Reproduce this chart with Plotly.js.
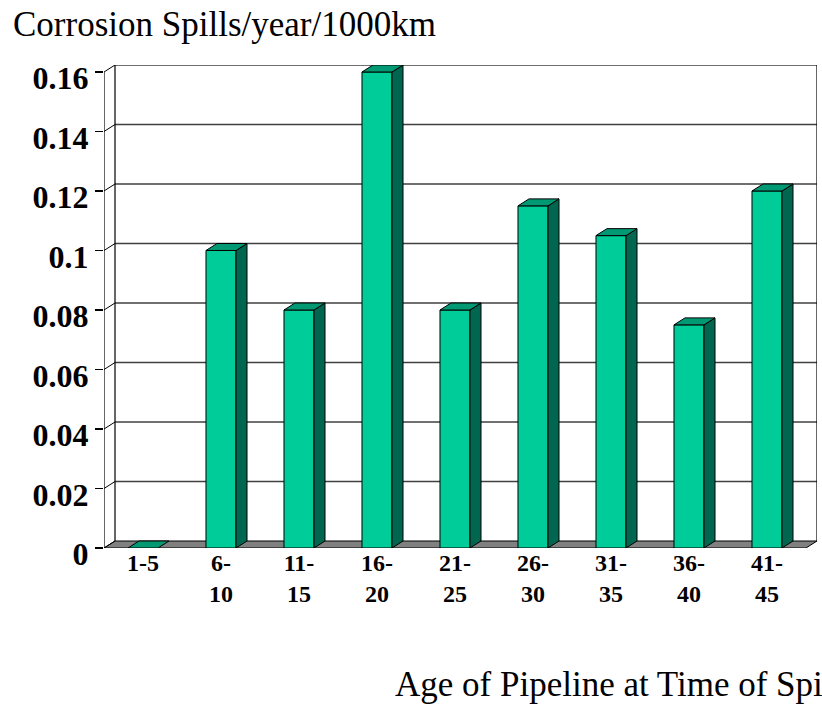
<!DOCTYPE html>
<html>
<head>
<meta charset="utf-8">
<script src="https://cdn.plot.ly/plotly-3.0.1.min.js"></script>
<style>html,body{margin:0;padding:0;background:#fff;}#chart{width:822px;height:706px;}</style>
</head>
<body>
<div id="chart"></div>
<script>
// ---- data ----
const categories = ['1-5', '6-10', '11-15', '16-20', '21-25', '26-30', '31-35', '36-40', '41-45'];
const tickLabels = ['1-5', '6-<br>10', '11-<br>15', '16-<br>20', '21-<br>25', '26-<br>30', '31-<br>35', '36-<br>40', '41-<br>45'];
const spills = [0, 0.1, 0.08, 0.16, 0.08, 0.115, 0.105, 0.075, 0.12];
const yTickVals = [0, 0.02, 0.04, 0.06, 0.08, 0.1, 0.12, 0.14, 0.16];
const yTickText = ['0', '0.02', '0.04', '0.06', '0.08', '0.1', '0.12', '0.14', '0.16'];
const yTitle = 'Corrosion Spills/year/1000km';
const xTitle = 'Age of Pipeline at Time of Spill';

// ---- style / geometry of the pseudo-3D look ----
const FONT = 'Liberation Serif, Times New Roman, serif';
const DX = 0.141;      // depth offset in x units
const DY = 0.00235;    // depth offset in y units
const BW = 0.385;      // bar width
const FRONT = '#00CC99', TOP = '#009973', SIDE = '#006650';
const YMAX = yTickVals[yTickVals.length - 1];

const idx = categories.map((c, i) => i);
const xLo = -0.5, xHi = categories.length - 0.5;

// side and top faces computed from data
const sideX = [], sideY = [], topX = [], topY = [];
idx.forEach(i => {
  const v = spills[i];
  const l = i - BW / 2, r = i + BW / 2;
  if (v > 0) {
    sideX.push(r, r + DX, r + DX, r, r, null);
    sideY.push(0, DY, v + DY, v, 0, null);
  }
  topX.push(l, r, r + DX, l + DX, l, null);
  topY.push(v, v, v + DY, v + DY, v, null);
});

const traces = [
  {type: 'bar', x: idx, y: spills, width: BW, marker: {color: FRONT, line: {color: '#000', width: 1}},
   hoverinfo: 'x+y', name: 'spills'},
  {type: 'scatter', x: sideX, y: sideY, mode: 'lines', fill: 'toself', fillcolor: SIDE,
   line: {color: '#000', width: 1}, hoverinfo: 'skip'},
  {type: 'scatter', x: topX, y: topY, mode: 'lines', fill: 'toself', fillcolor: TOP,
   line: {color: '#000', width: 1}, hoverinfo: 'skip'}
];

const shapes = [];
// floor
shapes.push({type: 'path', layer: 'below', xref: 'x', yref: 'y',
  path: `M ${xLo},0 L ${xHi},0 L ${xHi + DX},${DY} L ${xLo + DX},${DY} Z`,
  fillcolor: '#808080', line: {color: '#000', width: 1}});
// back wall gridlines & side diagonals
yTickVals.forEach(v => {
  if (v > 0) shapes.push({type: 'line', layer: 'below', xref: 'x', yref: 'y',
    x0: xLo + DX, x1: xHi + DX, y0: v + DY, y1: v + DY, line: {color: '#404040', width: 1.3}});
  shapes.push({type: 'line', layer: 'below', xref: 'x', yref: 'y',
    x0: xLo, x1: xLo + DX, y0: v, y1: v + DY, line: {color: '#000', width: 1}});
});
// back wall verticals
[xLo + DX, xHi + DX].forEach(xx => shapes.push({type: 'line', layer: 'below', xref: 'x', yref: 'y',
  x0: xx, x1: xx, y0: DY, y1: YMAX + DY, line: {color: '#000', width: 1.2}}));
// front y axis line
shapes.push({type: 'line', layer: 'below', xref: 'x', yref: 'y',
  x0: xLo, x1: xLo, y0: 0, y1: YMAX, line: {color: '#000', width: 1.2}});

const layout = {
  width: 822, height: 706,
  margin: {l: 104, r: 5, t: 65, b: 158, pad: 0},
  paper_bgcolor: '#fff', plot_bgcolor: '#fff',
  showlegend: false,
  font: {family: FONT, color: '#000'},
  xaxis: {range: [xLo, xHi + DX], tickvals: idx, ticktext: tickLabels, ticks: '',
    ticklabelstandoff: -2,
    showgrid: false, zeroline: false, showline: false, fixedrange: true,
    tickfont: {family: FONT, size: 24, color: '#000', weight: 'bold'}},
  xaxis2: {overlaying: 'x', anchor: 'y', range: [xLo, xHi + DX],
    tickvals: idx.concat([categories.length]).map(i => i - 0.5),
    ticks: 'outside', ticklen: 7, tickwidth: 1.2, tickcolor: '#000', showticklabels: false,
    showgrid: false, zeroline: false, showline: false, fixedrange: true},
  yaxis: {range: [0, YMAX + DY], tickvals: yTickVals, ticktext: yTickText,
    ticks: 'outside', ticklen: 8, tickwidth: 1.2, tickcolor: '#000',
    ticklabelshift: 6,
    showgrid: false, zeroline: false, showline: false, fixedrange: true,
    tickfont: {family: FONT, size: 32, color: '#000', weight: 'bold'}},
  shapes: shapes,
  annotations: [
    {text: yTitle, xref: 'paper', yref: 'paper', x: -0.13, y: 1.084, xanchor: 'left', yanchor: 'middle',
     showarrow: false, font: {family: FONT, size: 35, color: '#000'}},
    {text: xTitle, xref: 'paper', yref: 'paper', x: 0.4053, y: -0.2836, xanchor: 'left', yanchor: 'middle',
     showarrow: false, font: {family: FONT, size: 35, color: '#000'}}
  ]
};

Plotly.newPlot('chart', traces, layout, {displayModeBar: false, staticPlot: true});
</script>
</body>
</html>
